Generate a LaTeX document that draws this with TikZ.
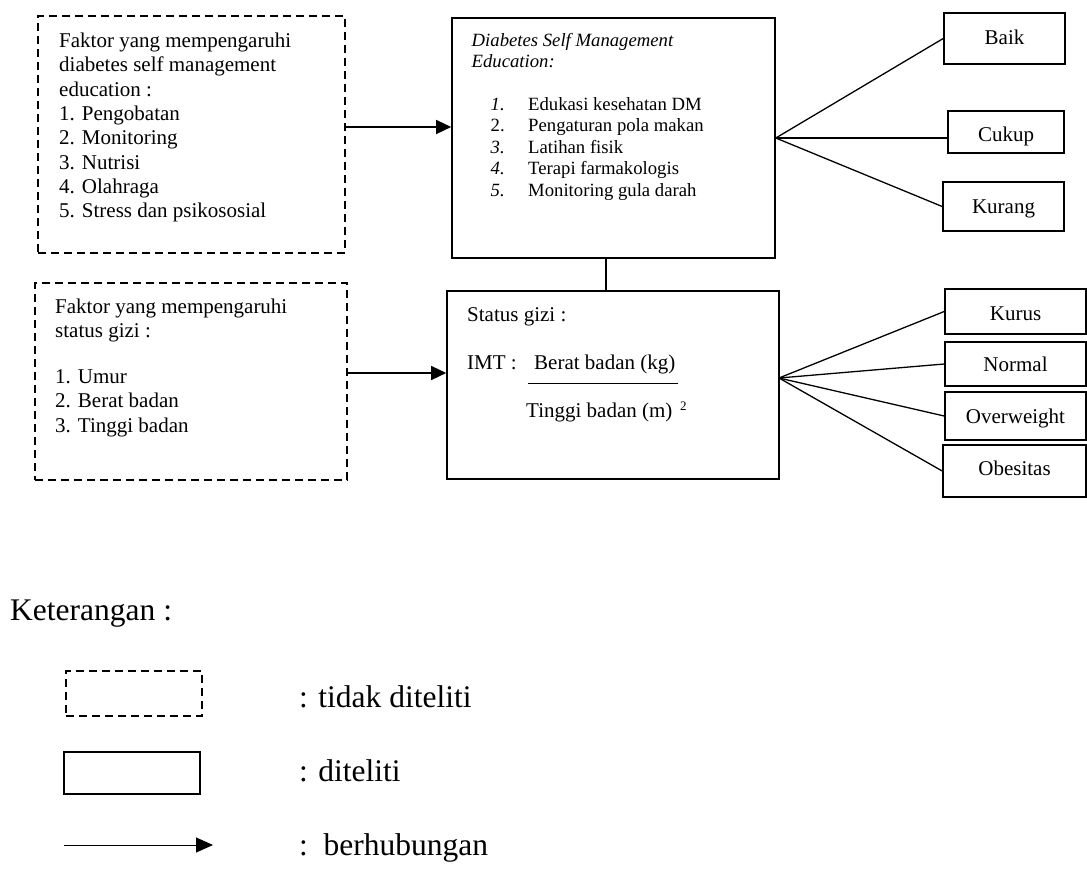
\documentclass[tikz,border=0pt]{standalone}
\usepackage{fontspec}
\setmainfont{Liberation Serif}
\usetikzlibrary{arrows.meta,calc}
\begin{document}
\begin{tikzpicture}[x=1pt,y=-1pt,
  solidbox/.style={draw,line width=1.6pt,inner sep=0pt},
  dashbox/.style={draw,line width=1.5pt,dash pattern=on 8pt off 5pt,inner sep=0pt},
  txt/.style={anchor=base west,inner sep=0pt,font=\fontsize{21}{24}\selectfont},
  stxt/.style={anchor=base west,inner sep=0pt,font=\fontsize{18.7}{21}\selectfont},
  outtxt/.style={anchor=base,inner sep=0pt,font=\fontsize{21}{24}\selectfont},
  link/.style={line width=1.3pt},
  arr/.style={line width=1.4pt,-{Triangle[length=15pt,width=14pt]}},
  legtxt/.style={anchor=base west,inner sep=0pt,font=\fontsize{31.5}{36}\selectfont}]
\useasboundingbox (0,0) rectangle (1087,884);

% boxes
\node[dashbox,minimum width=307pt,minimum height=237pt] (b1) at (191.5,134.5) {};
\node[solidbox,minimum width=323pt,minimum height=240pt] (b2) at (613.5,138) {};
\node[solidbox,minimum width=332pt,minimum height=188pt] (b3) at (613,385) {};
\node[dashbox,minimum width=312pt,minimum height=197pt] (b4) at (191,381.5) {};

% outcome boxes
\node[solidbox,minimum width=121pt,minimum height=51pt] (baik) at (1004.5,38.5) {};
\node[solidbox,minimum width=116pt,minimum height=42pt] (cukup) at (1006,132) {};
\node[solidbox,minimum width=121pt,minimum height=49pt] (kurang) at (1003.5,206.5) {};
\node[solidbox,minimum width=141pt,minimum height=45pt] (kurus) at (1015.5,311.5) {};
\node[solidbox,minimum width=141pt,minimum height=44pt] (normal) at (1015.5,364) {};
\node[solidbox,minimum width=141pt,minimum height=48pt] (over) at (1015.5,416) {};
\node[solidbox,minimum width=143pt,minimum height=52pt] (obes) at (1014.5,471) {};
\node[outtxt] (tbaik) at (baik.center |- 0,44.3) {Baik};
\node[outtxt] (tcukup) at (cukup.center |- 0,141.5) {Cukup};
\node[outtxt] (tkurang) at (kurang.center |- 0,213) {Kurang};
\node[outtxt] (tkurus) at (kurus.center |- 0,320.7) {Kurus};
\node[outtxt] (tnormal) at (normal.center |- 0,371.7) {Normal};
\node[outtxt] (tover) at (over.center |- 0,423) {Overweight};
\node[outtxt] (tobes) at (obes.center |- 0,475) {Obesitas};

% box 1 text
\node[txt] (t1a) at (59,47.5) {Faktor yang mempengaruhi};
\node[txt] (t1b) at (59,71.8) {diabetes self management};
\node[txt] (t1c) at (59,96.1) {education :};
\node[txt] (t1d) at (59,120.4) {1. Pengobatan};
\node[txt] (t1e) at (59,144.7) {2. Monitoring};
\node[txt] (t1f) at (59,169) {3. Nutrisi};
\node[txt] (t1g) at (59,193.3) {4. Olahraga};
\node[txt] (t1h) at (59,217.6) {5. Stress dan psikososial};

% box 2 text
\node[stxt] (t2a) at (471.5,46.7) {\itshape Diabetes Self Management};
\node[stxt] (t2b) at (471.5,67.7) {\itshape Education:};
\node[stxt] (n21) at (490.5,110.7) {\itshape 1.};
\node[stxt] (n22) at (490.5,131.9) {2.};
\node[stxt] (n23) at (490.5,153.3) {\itshape 3.};
\node[stxt] (n24) at (490.5,174.8) {\itshape 4.};
\node[stxt] (n25) at (490.5,196.3) {\itshape 5.};
\node[stxt] (t21) at (528,110.7) {Edukasi kesehatan DM};
\node[stxt] (t22) at (528,131.9) {Pengaturan pola makan};
\node[stxt] (t23) at (528,153.3) {Latihan fisik};
\node[stxt] (t24) at (528,174.8) {Terapi farmakologis};
\node[stxt] (t25) at (528,196.3) {Monitoring gula darah};

% box 3 text
\node[txt] (t3a) at (467,321.7) {Status gizi :};
\node[txt] (t3b) at (467,369) {IMT :};
\node[txt] (t3c) at (534,369) {Berat badan (kg)};
\node[txt] (t3d) at (526,417.3) {Tinggi badan (m)};
\node[anchor=base west,inner sep=0pt,font=\fontsize{13}{15}\selectfont] (t3e) at (680,410.5) {2};
\coordinate (fl1) at (528,383);
\coordinate (fl2) at (678,383);
\draw[line width=1pt] (fl1) -- (fl2);

% box 4 text
\node[txt] (t4a) at (55,313) {Faktor yang mempengaruhi};
\node[txt] (t4b) at (55,337.5) {status gizi :};
\node[txt] (t4c) at (55,383) {1. Umur};
\node[txt] (t4d) at (55,407.5) {2. Berat badan};
\node[txt] (t4e) at (55,432) {3. Tinggi badan};

% connectors
\coordinate (a1) at (0,127);
\coordinate (a2) at (0,373);
\coordinate (v) at (606,0);
\coordinate (f2) at (779,378);
\draw[arr] (b1.east |- a1) -- (b2.west |- a1);
\draw[arr] (b4.east |- a2) -- (b3.west |- a2);
\draw[link] (b2.south -| v) -- (b3.north -| v);
\draw[link] (b2.east) -- (baik.west);
\draw[link] (b2.east) -- (b2.east -| cukup.west);
\draw[link] (b2.east) -- (kurang.west);
\draw[link] (f2) -- (kurus.west);
\draw[link] (f2) -- (normal.west);
\draw[link] (f2) -- (over.west);
\draw[link] (f2) -- (obes.west);

% legend
\node[legtxt] (ket) at (10,620.5) {Keterangan :};
\node[dashbox,minimum width=136pt,minimum height=45pt] (ld) at (134,693.5) {};
\node[solidbox,minimum width=136pt,minimum height=42pt] (ls) at (132,773) {};
\coordinate (la1) at (64,845);
\coordinate (la2) at (213,845);
\draw[line width=1pt,-{Triangle[length=17pt,width=15pt]}] (la1) -- (la2);
\node[legtxt] (l1) at (299,707.3) {: tidak diteliti};
\node[legtxt] (l2) at (299,781) {: diteliti};
\node[legtxt] (l3) at (299,855) {:~~berhubungan};
\end{tikzpicture}
\end{document}
